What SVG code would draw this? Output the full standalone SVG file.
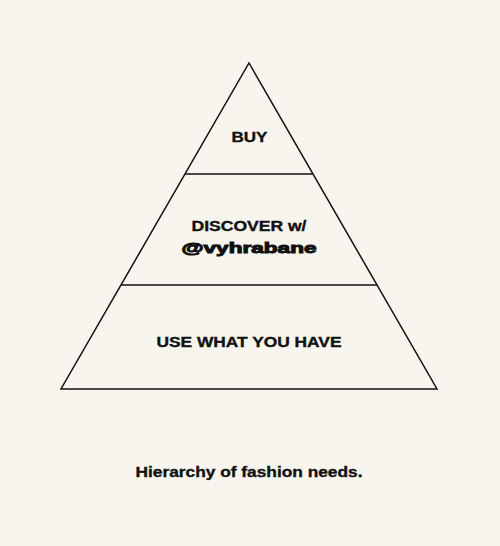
<svg xmlns="http://www.w3.org/2000/svg" width="500" height="546" viewBox="0 0 500 546">
<style>
.bg{fill:#f8f4ee}
.edge{fill:none;stroke:#111;stroke-width:1.5;stroke-linejoin:miter}
.lbl{font-family:"Liberation Sans",Arial,sans-serif;font-weight:700;font-size:14.5px;fill:#111;stroke:#111;stroke-width:0.35;text-anchor:middle}
.handle{font-family:"Liberation Sans",Arial,sans-serif;font-weight:900;font-size:15px;fill:#111;stroke:#111;stroke-width:1;text-anchor:middle}
</style>
<rect class="bg" x="0" y="0" width="500" height="546"/>
<g id="connectors">
<path class="edge" d="M249,63 L437,389 L61,389 Z"/>
<line class="edge" x1="185" y1="174" x2="313" y2="174"/>
<line class="edge" x1="121" y1="285" x2="377" y2="285"/>
</g>
<g id="node-buy"><text class="lbl" x="249.5" y="141.5" textLength="36" lengthAdjust="spacingAndGlyphs">BUY</text></g>
<g id="node-discover">
<text class="lbl" x="249" y="230.5" textLength="115" lengthAdjust="spacingAndGlyphs">DISCOVER w/</text>
<text class="handle" x="249" y="253" textLength="135" lengthAdjust="spacingAndGlyphs">@vyhrabane</text>
</g>
<g id="node-use"><text class="lbl" x="249" y="347" textLength="185" lengthAdjust="spacingAndGlyphs">USE WHAT YOU HAVE</text></g>
<g id="caption"><text class="lbl" x="249" y="476.5" style="font-size:15px" textLength="227" lengthAdjust="spacingAndGlyphs">Hierarchy of fashion needs.</text></g>
</svg>
